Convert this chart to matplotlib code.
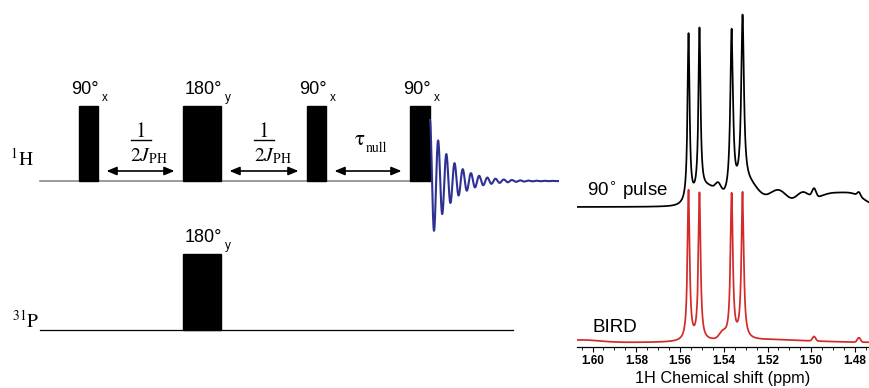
import numpy as np
import matplotlib.pyplot as plt

plt.rcParams['font.family'] = ['Liberation Sans', 'DejaVu Sans']

# ---- pulse sequence (time axis in canvas units) ----
h_pulse_start = [79, 183, 307, 410]
h_pulse_len = [19, 38, 19, 20]
h_pulse_angle = ["90°", "180°", "90°", "90°"]
h_pulse_phase = ["x", "y", "x", "x"]
p_pulse_start = [183]
p_pulse_len = [38]
p_pulse_angle = ["180°"]
p_pulse_phase = ["y"]
delay_label = ["jph", "jph", "tau"]

# FID after the last pulse
fid_amp = 61
fid_decay = 20.0
fid_period = 8.2
fid_len = 128

# ---- spectra ----
ppm_left, ppm_right = 1.6071, 1.4736
peak_ppm = [1.5561, 1.5511, 1.5364, 1.5314]

bird_offset = 4.5
bird_height = [150, 147, 145, 146]
bird_width = [0.0006, 0.0006, 0.00065, 0.00065]
bird_bump_ppm = [1.605, 1.5405, 1.52, 1.4987, 1.4782]
bird_bump_height = [2.5, 6, 2.5, 4.5, 4.5]
bird_bump_width = [0.008, 0.0015, 0.02, 0.0007, 0.0007]

p90_offset = 140
p90_height = [168, 164, 165, 169]
p90_width = [0.00057, 0.00057, 0.00074, 0.00074]
p90_bump_ppm = [1.547, 1.5425, 1.529, 1.515, 1.504, 1.4987, 1.491, 1.480, 1.4782]
p90_bump_height = [18, 8, 22, 16, 12, 9, 13, 9, 4]
p90_bump_width = [0.005, 0.0012, 0.005, 0.004, 0.003, 0.0009, 0.007, 0.005, 0.0007]


def lorentz(x, c, h, w):
    return h / (1 + ((x - c) / w) ** 2)


def gauss(x, c, h, s):
    return h * np.exp(-0.5 * ((x - c) / s) ** 2)


def spectrum(x, offset, heights, widths, bppm, bh, bw):
    y = np.full_like(x, offset)
    for c, h, w in zip(peak_ppm, heights, widths):
        y += lorentz(x, c, h, w)
    for c, h, w in zip(bppm, bh, bw):
        y += gauss(x, c, h, w)
    return y


fig = plt.figure(figsize=(8.69, 3.88), dpi=100)

# left panel: pulse sequence drawn on a canvas-sized axes
ax0 = fig.add_axes([0, 0, 1, 1])
ax0.set_xlim(0, 869)
ax0.set_ylim(388, 0)
ax0.axis('off')

h_base, p_base = 181, 330
pulse_h = 75

ax0.plot([40, 430], [h_base, h_base], color='#8a8a8a', lw=1.2, zorder=1)
ax0.plot([40, 513], [p_base, p_base], color='black', lw=0.9, zorder=1)


def draw_pulses(starts, lens, angles, phases, base, height):
    for s, l, a, ph in zip(starts, lens, angles, phases):
        ax0.add_patch(plt.Rectangle((s, base - height), l, height,
                                    color='black', zorder=3))
        top = base - height
        ax0.text(s + l + 1, top - 12, a, ha='right', va='baseline',
                 fontsize=13)
        ax0.text(s + l + 4, top - 5, ph, ha='left', va='baseline',
                 fontsize=8.5)


draw_pulses(h_pulse_start, h_pulse_len, h_pulse_angle, h_pulse_phase,
            h_base, pulse_h)
draw_pulses(p_pulse_start, p_pulse_len, p_pulse_angle, p_pulse_phase,
            p_base, pulse_h + 1)

# delays with double arrows
for i, lab in enumerate(delay_label):
    x0 = h_pulse_start[i] + h_pulse_len[i] + 8.5
    x1 = h_pulse_start[i + 1] - 8.5
    y = 171
    ax0.annotate("", xy=(x1, y), xytext=(x0, y),
                 arrowprops=dict(arrowstyle="<|-|>,head_length=0.6,head_width=0.25",
                                 lw=1.2, color='black', shrinkA=0, shrinkB=0))
    xc = (x0 + x1) / 2
    if lab == "jph":
        ax0.text(xc, 137, "1", ha='center', va='baseline', fontsize=15,
                 family='STIXGeneral')
        ax0.plot([xc - 10, xc + 10], [139.5, 139.5], color='black', lw=1.0)
        ax0.text(xc - 10, 161.5, r"$2J_{\mathrm{PH}}$", ha='left',
                 va='baseline', fontsize=14, math_fontfamily='stix')
    else:
        ax0.text(xc - 13, 145, "τ", ha='left', va='baseline',
                 fontsize=15, family='STIXGeneral')
        ax0.text(xc - 2, 152, "null", ha='left', va='baseline',
                 fontsize=10, family='STIXGeneral')

ax0.text(10, 166, r"$^{1}\mathrm{H}$", ha='left', va='baseline',
         fontsize=14, math_fontfamily='stix')
ax0.text(12, 328, r"$^{31}\mathrm{P}$", ha='left', va='baseline',
         fontsize=14, math_fontfamily='stix')

# free induction decay
t = np.linspace(0, fid_len, 1200)
fid = fid_amp * np.exp(-t / fid_decay) * np.cos(2 * np.pi * t / fid_period)
fid_x0 = h_pulse_start[-1] + h_pulse_len[-1]
ax0.plot(fid_x0 + t, h_base - fid, color='#2e3192', lw=1.5, zorder=4)

# labels for the spectra
ax0.text(587, 195, r"90$^{\circ}$ pulse", ha='left', va='baseline',
         fontsize=13.5)
ax0.text(592, 332, "BIRD", ha='left', va='baseline', fontsize=13.5)

# right panel: 1H spectra
ax = fig.add_axes([577 / 869, (388 - 347) / 388, 292 / 869, 347 / 388])
x = np.linspace(ppm_right, ppm_left, 4000)
y_bird = spectrum(x, bird_offset, bird_height, bird_width,
                  bird_bump_ppm, bird_bump_height, bird_bump_width)
y_p90 = spectrum(x, p90_offset, p90_height, p90_width,
                 p90_bump_ppm, p90_bump_height, p90_bump_width)
ax.plot(x, y_bird, color='#d42a2a', lw=1.25)
ax.plot(x, y_p90, color='black', lw=1.25)

ax.set_xlim(ppm_left, ppm_right)
ax.set_ylim(0, 347)
ax.patch.set_alpha(0)
for side in ['top', 'left', 'right']:
    ax.spines[side].set_visible(False)
ax.spines['bottom'].set_linewidth(0.9)
ax.set_yticks([])
ax.set_xticks(np.arange(1.48, 1.601, 0.02))
ax.set_xticks(np.arange(1.475, 1.6071, 0.005), minor=True)
ax.set_xticklabels([f"{v:.2f}" for v in np.arange(1.48, 1.601, 0.02)],
                   fontsize=8.5, fontweight='bold')
ax.tick_params(axis='x', which='major', length=3.5, width=0.8, pad=2)
ax.tick_params(axis='x', which='minor', length=2, width=0.6)
ax.set_xlabel("1H Chemical shift (ppm)", fontsize=11.7, labelpad=3)

fig.savefig("out.png", dpi=100)
